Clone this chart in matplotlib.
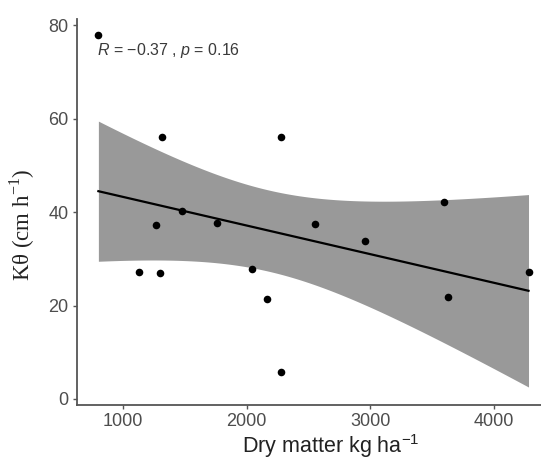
import numpy as np
import matplotlib
matplotlib.use("Agg")
from matplotlib import pyplot as plt

# values
dry_matter = [800, 1130, 1265, 1300, 1315, 1475, 1760, 2045, 2165, 2280, 2280, 2550, 2960, 3600, 3625, 4280]
k_theta = [77.9, 27.2, 37.2, 27.0, 56.0, 40.2, 37.6, 27.8, 21.4, 56.0, 5.8, 37.4, 33.8, 42.1, 21.8, 27.2]
x_ticks = [1000, 2000, 3000, 4000]
y_ticks = [0, 20, 40, 60, 80]
stat_label = r"$R$ = $-$0.37 , $p$ = 0.16"
T_975_DF14 = 2.144787

SPINE = "#555555"
TICKTXT = "#4d4d4d"


def lm_band(x, y, grid):
    x = np.asarray(x, float)
    y = np.asarray(y, float)
    n = len(x)
    b, a = np.polyfit(x, y, 1)
    fit = a + b * grid
    resid = y - (a + b * x)
    s = np.sqrt(np.sum(resid ** 2) / (n - 2))
    sxx = np.sum((x - x.mean()) ** 2)
    se = s * np.sqrt(1.0 / n + (grid - x.mean()) ** 2 / sxx)
    return fit, fit - T_975_DF14 * se, fit + T_975_DF14 * se


def main():
    plt.rcParams["font.family"] = ["Liberation Sans", "DejaVu Sans"]
    plt.rcParams["mathtext.fontset"] = "custom"
    plt.rcParams["mathtext.it"] = "Liberation Sans:italic"
    plt.rcParams["mathtext.rm"] = "Liberation Sans"

    fig = plt.figure(figsize=(5.41, 4.63), dpi=100)
    ax = fig.add_axes([77 / 541, 58.4 / 463, 1 - 77 / 541, (444.5 - 58.4) / 463])

    grid = np.linspace(min(dry_matter), max(dry_matter), 200)
    fit, lo, hi = lm_band(dry_matter, k_theta, grid)
    ax.fill_between(grid, lo, hi, color="#999999", lw=0, zorder=1)
    ax.plot(grid, fit, color="black", lw=1.6, zorder=2)
    ax.scatter(dry_matter, k_theta, s=30, color="black", zorder=3, linewidths=0)

    ax.text(790, 74.6, stat_label, fontsize=11.5, color="#3a3a3a", ha="left", va="center")

    ax.set_xlim(627, 4381)
    ax.set_ylim(-1.2, 81.4)
    ax.set_xticks(x_ticks)
    ax.set_yticks(y_ticks)
    ax.tick_params(direction="out", length=3, width=1, color=SPINE,
                   labelcolor=TICKTXT, labelsize=13, pad=3)

    for side in ["top", "right"]:
        ax.spines[side].set_visible(False)
    for side in ["left", "bottom"]:
        ax.spines[side].set_color(SPINE)
        ax.spines[side].set_linewidth(1.3)

    ax.set_xlabel("Dry matter kg ha$^{\\mathregular{-1}}$", fontsize=15.5, color="#222222")
    ax.xaxis.set_label_coords((331 - 77) / 464, -0.072)
    ax.set_ylabel("K\u03b8 (cm h$^{\\mathregular{-1}}$)", fontsize=16.5,
                  family=["Liberation Serif", "DejaVu Serif"], color="#222222")
    ax.yaxis.set_label_coords(-40 / 464, 0.465)

    fig.savefig("out.png", dpi=100)
    plt.close(fig)


if __name__ == "__main__":
    main()
